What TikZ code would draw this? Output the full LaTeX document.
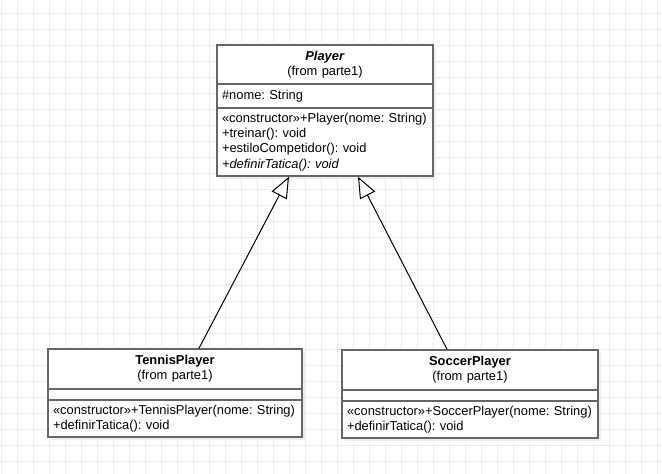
\documentclass[tikz,border=0pt]{standalone}
\usepackage{fontspec}
\setmainfont{Liberation Sans}
\usetikzlibrary{shapes,shadows,arrows.meta}
\definecolor{umlgray}{HTML}{666666}
\definecolor{gridgray}{HTML}{EBEBEB}
\definecolor{shadowgray}{HTML}{EEEEEE}

\begin{document}
\begin{tikzpicture}[x=1pt,y=-1pt,
classpart/.style={shape=rectangle,draw=umlgray,fill=white,line width=1.5pt,inner xsep=5pt,inner ysep=0pt,font=\fontsize{12.9}{15.3}\selectfont\frenchspacing,drop shadow={shadow xshift=3pt,shadow yshift=-3pt,fill=shadowgray,opacity=1}},
inherits/.style={-{Triangle[length=21pt,width=17pt,fill=white]},draw=black,line width=1pt}]
\fill[white] (0,0) rectangle (662,474);
\useasboundingbox (0,0) rectangle (662,474);
\foreach \gx in {1,17,...,657} \draw[gridgray,line width=1pt] (\gx,0) -- (\gx,474);
\foreach \gy in {13,29,...,461} \draw[gridgray,line width=1pt] (0,\gy) -- (662,\gy);

\node[classpart,align=center,text width=206pt,minimum height=39pt] (0) at (325,64.5) {\textbf{\textit{Player}}\\(from parte1)};
\node[classpart,align=left,text width=206pt,minimum height=24pt] (1) at (325,96) {\#nome: String};
\node[classpart,align=left,text width=206pt,minimum height=68pt] (2) at (325,142) {«constructor»+Player(nome: String)\\+treinar(): void\\+estiloCompetidor(): void\\\textit{+definirTatica(): void}};
\node[classpart,align=center,text width=244pt,minimum height=40pt] (3) at (175,369) {\textbf{TennisPlayer}\\(from parte1)};
\node[classpart,minimum width=254pt,minimum height=11pt] (4) at (175,394.5) {};
\node[classpart,align=left,text width=244pt,minimum height=37pt] (5) at (175,418.5) {«constructor»+TennisPlayer(nome: String)\\+definirTatica(): void};
\node[classpart,align=center,text width=246pt,minimum height=40pt] (6) at (470,370) {\textbf{SoccerPlayer}\\(from parte1)};
\node[classpart,minimum width=256pt,minimum height=11pt] (7) at (470,395.5) {};
\node[classpart,align=left,text width=246pt,minimum height=37pt] (8) at (470,419.5) {«constructor»+SoccerPlayer(nome: String)\\+definirTatica(): void};

\draw [inherits] ([xshift=24pt]3.north) -- ([xshift=-36pt]2.south);
\draw [inherits] ([xshift=-23pt]6.north) -- ([xshift=33pt]2.south);
\end{tikzpicture}
\end{document}
